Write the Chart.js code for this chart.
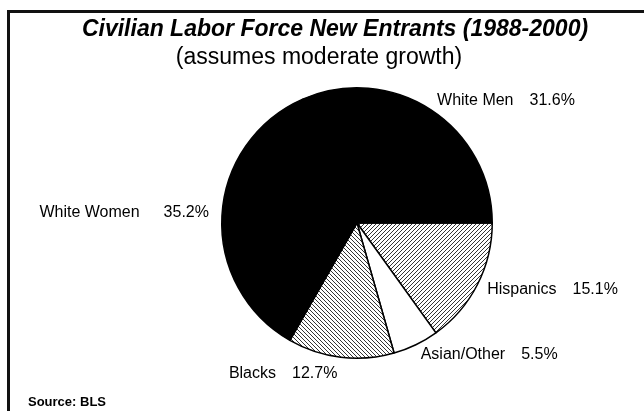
<!DOCTYPE html>
<html>
<head>
<meta charset="utf-8">
<script src="https://cdn.jsdelivr.net/npm/chart.js@4"></script>
<style>
  html, body { margin: 0; padding: 0; background: #fff; }
  #wrap { width: 644px; height: 411px; position: relative; }
</style>
</head>
<body>
<div id="wrap"><canvas id="pieChart"></canvas></div>
<script>
// slices, clockwise from 3 o'clock
const groups = ["Hispanics", "Asian/Other", "Blacks", "White Women", "White Men"];
const shares = [15.1, 5.5, 12.7, 35.2, 31.6];

const titleText = "Civilian Labor Force New Entrants (1988-2000)";
const subtitleText = "(assumes moderate growth)";
const sourceText = "Source: BLS";

const FONT = "'Liberation Sans', Arial, Helvetica, sans-serif";

// hatch fills (n = tile size)
function hatch(dir, n) {
  const c = document.createElement("canvas");
  c.width = n;
  c.height = n;
  const g = c.getContext("2d");
  g.fillStyle = "#fff";
  g.fillRect(0, 0, n, n);
  g.strokeStyle = "#000";
  g.lineWidth = 0.8;
  g.beginPath();
  if (dir == "/") {
    g.moveTo(-1, n + 1); g.lineTo(n + 1, -1);
    g.moveTo(-1, 1); g.lineTo(1, -1);
    g.moveTo(n - 1, n + 1); g.lineTo(n + 1, n - 1);
  } else {
    g.moveTo(-1, -1); g.lineTo(n + 1, n + 1);
    g.moveTo(-1, n - 1); g.lineTo(1, n + 1);
    g.moveTo(n - 1, -1); g.lineTo(n + 1, 1);
  }
  g.stroke();
  return g.createPattern(c, "repeat");
}
const ctx = document.getElementById("pieChart").getContext("2d");
const fills = [hatch("/", 4), "#fff", hatch("\\", 4), "#000", "#000"];

// frame, titles, slice labels
const decor = {
  id: "decor",
  afterDraw(chart) {
    const c = chart.ctx;
    c.save();
    // frame (top + left)
    c.fillStyle = "#111";
    c.fillRect(7, 10, 637, 3);
    c.fillRect(7, 10, 3, 401);

    c.fillStyle = "#000";
    c.textAlign = "center";
    c.textBaseline = "middle";
    c.font = "italic bold 23px " + FONT;
    c.fillText(titleText, 335, 30);
    c.font = "23px " + FONT;
    c.fillText(subtitleText, 319, 58);

    c.textAlign = "left";
    c.font = "bold 13px " + FONT;
    c.fillText(sourceText, 28, 402);

    // labels at slice mid-angles
    const arcs = chart.getDatasetMeta(0).data;
    c.font = "16px " + FONT;
    arcs.forEach((arc, i) => {
      const mid = (arc.startAngle + arc.endAngle) / 2;
      const r = arc.outerRadius + 11;
      const x = arc.x + Math.cos(mid) * r;
      const y = arc.y + Math.sin(mid) * r;
      const name = groups[i];
      const pct = shares[i].toFixed(1) + "%";
      const gap = i == 3 ? 24 : 16;
      if (Math.cos(mid) >= 0) {
        c.textAlign = "left";
        c.fillText(name, x, y);
        c.fillText(pct, x + c.measureText(name).width + gap, y);
      } else {
        const dy = i == 2 ? 5 : -3;
        c.textAlign = "right";
        c.fillText(pct, x - 2, y + dy);
        c.fillText(name, x - 2 - c.measureText(pct).width - gap, y + dy);
      }
    });
    c.restore();
  },
};

const pie = new Chart(ctx, {
  type: "pie",
  data: {
    labels: groups,
    datasets: [
      {
        data: shares,
        backgroundColor: fills,
        borderColor: "#000",
        borderWidth: 1.5,
        hoverOffset: 0,
      },
    ],
  },
  options: {
    responsive: true,
    maintainAspectRatio: false,
    animation: false,
    events: [],
    rotation: 90,
    layout: {
      padding: { left: 221, right: 151, top: 87, bottom: 52 },
    },
    plugins: {
      legend: { display: false },
      tooltip: { enabled: false },
    },
  },
  plugins: [decor],
});
</script>
</body>
</html>
